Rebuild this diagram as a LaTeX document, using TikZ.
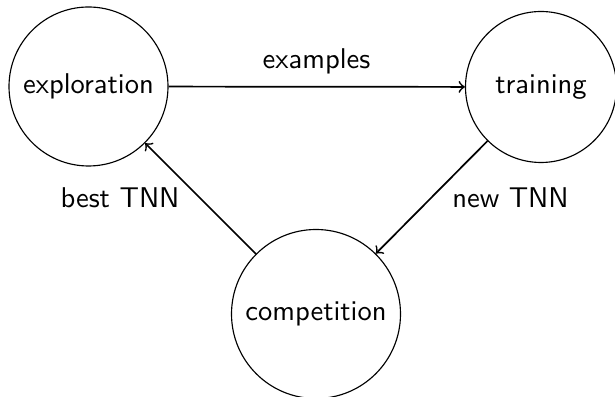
\documentclass[tikz,border=0pt]{standalone}
\renewcommand{\familydefault}{\sfdefault}
\begin{document}
\begin{tikzpicture}[x=0.35pt,y=-0.35pt,
  state/.style={draw,circle,inner sep=0pt,line width=0.4pt,font=\sffamily},
  conn/.style={->,semithick},
  lbl/.style={anchor=base,inner sep=0pt,font=\sffamily}]
\useasboundingbox (0,0) rectangle (615,397);
\node[state,minimum size=55.65pt] (exp) at (88.5,86.5) {exploration};
\node[state,minimum size=52.85pt] (tra) at (541,87) {training};
\node[state,minimum size=59.15pt] (com) at (316,314) {competition};
\draw[conn] (exp) -- (tra);
\draw[conn] (tra) -- (com);
\draw[conn] (com) -- (exp);
\node[lbl] (l1) at (316.5,68.5) {examples};
\node[lbl] (l2) at (510.5,208) {new TNN};
\node[lbl] (l3) at (120,208) {best TNN};
\end{tikzpicture}
\end{document}
